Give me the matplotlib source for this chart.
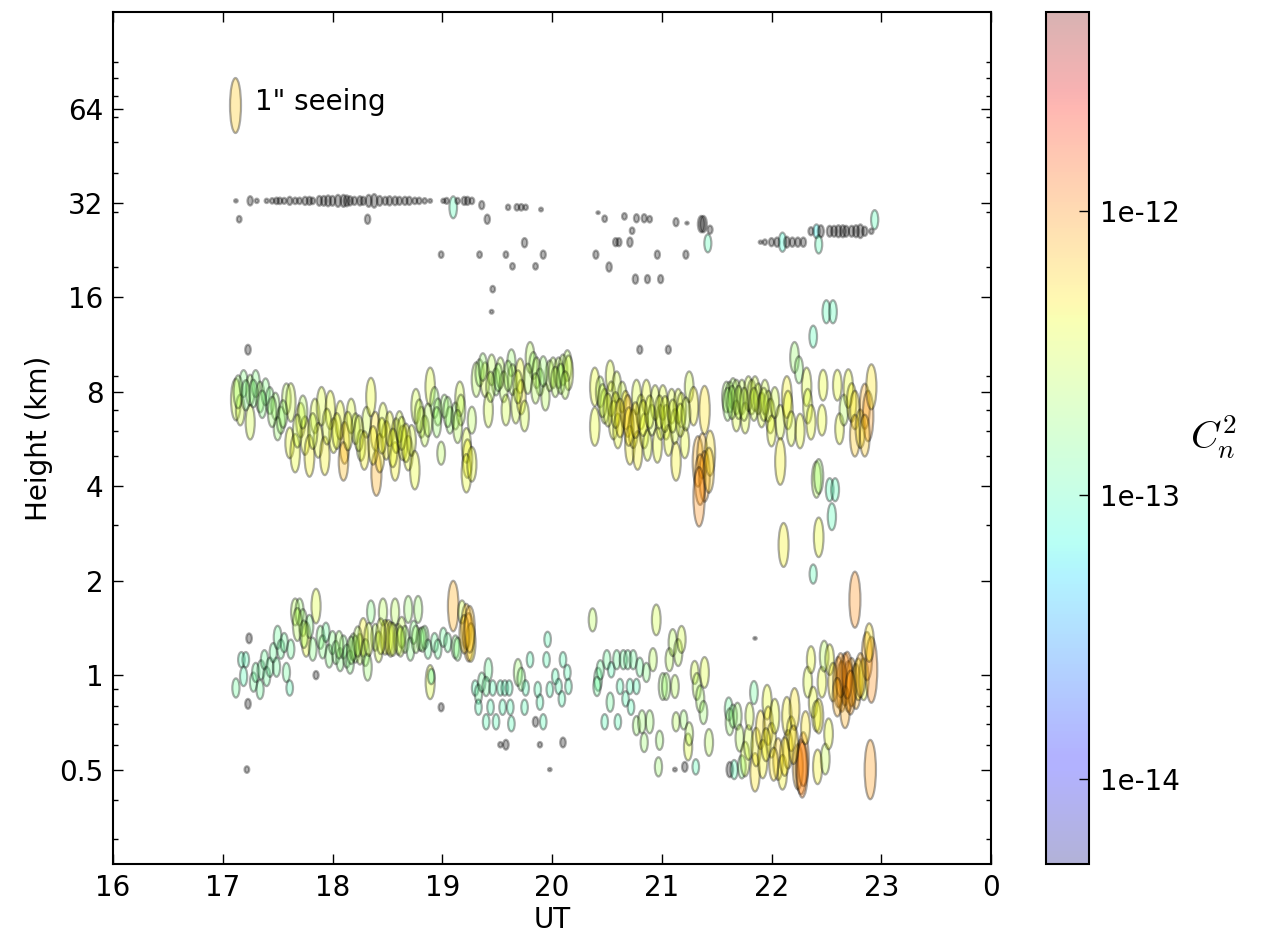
import matplotlib
matplotlib.use("Agg")
import numpy as np
import matplotlib.pyplot as plt
from matplotlib.collections import EllipseCollection
from matplotlib.colors import LogNorm, ListedColormap
from matplotlib.ticker import FixedLocator, NullFormatter

plt.rcParams['mathtext.fontset'] = 'cm'

# ---------------- data ----------------
# t = UT hour, h = height (km), s = seeing contribution (arcsec), c = log10(Cn2)
# (c below -14.3 = below the colour range, drawn grey)
top_t = [17.12, 17.25, 17.31, 17.40, 17.45, 17.49, 17.52, 17.56, 17.61, 17.66, 17.70, 17.75, 17.79, 17.82,
         17.88, 17.92, 17.96, 18.00, 18.05, 18.10, 18.13, 18.16, 18.20, 18.25, 18.28, 18.33, 18.38, 18.43,
         18.48, 18.52, 18.57, 18.61, 18.66, 18.70, 18.75, 18.79, 18.84, 18.89, 19.01, 19.04, 19.10, 19.14,
         19.20, 19.23, 19.27, 19.36, 17.15, 18.32, 19.41, 19.60, 19.68, 19.72, 19.76, 19.90, 18.99, 19.34,
         19.58, 19.75, 19.92, 19.64, 19.85, 19.46, 19.45,
         20.42, 20.48, 20.66, 20.77, 20.84, 20.89, 21.13, 21.23, 21.36, 21.38, 21.44, 21.42, 20.73, 20.58,
         20.61, 20.71, 20.40, 20.52, 20.96, 21.22, 20.76, 20.87, 20.99,
         21.90, 21.94, 22.00, 22.05, 22.10, 22.14, 22.19, 22.24, 22.29,
         22.36, 22.41, 22.45, 22.53, 22.57, 22.61, 22.65, 22.68, 22.73, 22.77, 22.81, 22.85, 22.91,
         22.43, 22.94, 22.50, 22.56, 22.38]
top_h = [32.5] * 40 + [31.0, 32.5, 32.5, 32.5, 32.5, 31.5, 28.4, 28.4, 28.4, 31.0, 31.0, 31.0, 31.0, 30.5,
         21.9, 21.9, 21.9, 23.9, 21.9, 20.1, 20.1, 17.0, 14.4,
         29.8, 28.5, 29.0, 28.6, 28.6, 28.4, 27.8, 27.6, 27.4, 27.4, 26.3, 23.8, 26.1, 24.0,
         24.0, 24.0, 21.9, 20.0, 21.9, 21.9, 18.3, 18.3, 18.3] + [24.0] * 9 + [26.0] * 13 + \
        [23.6, 28.3, 14.4, 14.4, 12.0]
top_s = [0.06, 0.17, 0.08, 0.08, 0.10, 0.12, 0.12, 0.11, 0.15, 0.12, 0.12, 0.15, 0.15, 0.12,
         0.18, 0.18, 0.20, 0.18, 0.22, 0.22, 0.20, 0.17, 0.15, 0.17, 0.15, 0.22, 0.25, 0.18,
         0.15, 0.17, 0.16, 0.15, 0.15, 0.15, 0.12, 0.12, 0.10, 0.07, 0.08, 0.11, 0.40, 0.11,
         0.15, 0.15, 0.12, 0.15, 0.12, 0.17, 0.17, 0.10, 0.12, 0.12, 0.10, 0.07, 0.12, 0.12,
         0.12, 0.17, 0.15, 0.12, 0.12, 0.12, 0.07,
         0.05, 0.12, 0.12, 0.15, 0.15, 0.12, 0.15, 0.05, 0.30, 0.30, 0.15, 0.33, 0.12, 0.15,
         0.15, 0.17, 0.15, 0.17, 0.15, 0.15, 0.17, 0.15, 0.15,
         0.06, 0.10, 0.15, 0.17, 0.35, 0.20, 0.17, 0.17, 0.17,
         0.15, 0.25, 0.22, 0.20, 0.20, 0.22, 0.22, 0.20, 0.20, 0.22, 0.25, 0.17, 0.10,
         0.33, 0.35, 0.42, 0.42, 0.40]
top_c = [-14.5] * 40 + [-13.0, -14.5, -14.5, -14.5, -14.5, -14.5, -14.5, -14.5, -14.5, -14.5, -14.5, -14.5,
         -14.5, -14.5, -14.5, -14.5, -14.5, -14.5, -14.5, -14.5, -14.5, -14.5, -14.5,
         -14.5, -14.5, -14.5, -14.5, -14.5, -14.5, -14.5, -14.5, -14.5, -14.5, -14.5, -13.0, -14.5, -14.5,
         -14.5, -14.5, -14.5, -14.5, -14.5, -14.5, -14.5, -14.5, -14.5,
         -14.5, -14.5, -14.5, -14.5, -13.1, -14.5, -14.5, -14.5, -14.5,
         -14.5, -13.2, -14.5, -14.5, -14.5, -14.5, -14.5, -14.5, -14.5, -14.5, -14.5, -14.5, -14.5,
         -13.0, -13.0, -13.0, -13.0, -13.0]

mid_t = [17.23, 17.12, 17.16, 17.19, 17.25, 17.25, 17.30, 17.34, 17.39, 17.43, 17.48, 17.50, 17.53, 17.58,
         17.62, 17.61, 17.66, 17.71, 17.75, 17.79, 17.84, 17.87, 17.90, 17.93, 17.98, 18.01, 18.07, 18.11,
         18.10, 18.17, 18.21, 18.26, 18.31, 18.35, 18.39, 18.40, 18.43, 18.46, 18.49, 18.52, 18.57, 18.58,
         18.61, 18.64, 18.69, 18.72, 18.75, 18.76, 18.81, 18.84, 18.89, 18.93, 18.96, 18.99, 19.02, 19.07,
         19.12, 19.16, 19.17, 19.22, 19.23, 19.22, 19.27, 19.27,
         19.31, 19.34, 19.39, 19.42, 19.45, 19.49, 19.53, 19.56, 19.58, 19.63, 19.64, 19.67, 19.71, 19.72,
         19.75, 19.80, 19.83, 19.86, 19.89, 19.94, 19.98, 20.01, 20.06, 20.10, 20.14, 20.15, 20.80, 21.06,
         20.39, 20.39, 20.44, 20.48, 20.53, 20.54, 20.56, 20.59, 20.60, 20.64, 20.67, 20.69, 20.71, 20.74,
         20.77, 20.78, 20.81, 20.84, 20.86, 20.87, 20.91, 20.94, 20.96, 20.99, 21.01, 21.04, 21.06, 21.09,
         21.12, 21.13, 21.15, 21.18, 21.21, 21.25, 21.29, 21.39, 21.33, 21.37, 21.39, 21.35, 21.34, 21.44,
         21.43,
         21.59, 21.62, 21.65, 21.68, 21.68, 21.73, 21.76, 21.79, 21.82, 21.85, 21.88, 21.91, 21.94, 21.97,
         21.99, 22.00, 22.03, 22.08, 22.08, 22.14, 22.15, 22.18, 22.21, 22.25, 22.26, 22.32, 22.33, 22.36,
         22.47, 22.46, 22.60, 22.62, 22.66, 22.70, 22.73, 22.76, 22.76, 22.81, 22.85, 22.88, 22.91, 22.85,
         22.41, 22.43, 22.53, 22.58, 22.55, 22.11, 22.43, 22.38]
mid_h = [10.9, 7.56, 7.0, 8.5, 8.1, 6.4, 8.5, 7.7, 8.0, 7.5, 7.2, 6.1, 6.5, 7.6,
         7.4, 5.5, 5.1, 6.5, 5.8, 5.0, 6.7, 5.6, 7.2, 5.0, 7.0, 5.8, 6.5, 5.5,
         4.8, 6.7, 6.1, 5.4, 6.4, 7.7, 6.0, 4.4, 5.1, 6.5, 5.6, 6.1, 4.8, 5.8,
         6.2, 5.5, 5.1, 5.6, 4.5, 7.2, 6.4, 6.0, 8.3, 7.4, 6.9, 5.1, 7.2, 6.5,
         6.7, 7.6, 7.0, 5.4, 4.9, 4.4, 4.7, 6.5,
         8.75, 9.2, 8.75, 7.0, 9.4, 8.6, 9.2, 8.3, 7.0, 9.9, 8.75, 7.2, 9.0, 7.7,
         6.7, 10.3, 9.7, 9.2, 8.6, 7.7, 9.0, 9.2, 9.2, 9.4, 9.7, 9.2, 10.9, 10.9,
         8.3, 6.2, 8.0, 7.2, 9.0, 7.6, 6.5, 8.3, 6.0, 7.7, 7.0, 6.7, 5.4, 6.1,
         7.7, 5.2, 6.9, 6.0, 7.7, 5.4, 6.5, 7.4, 5.4, 6.4, 7.4, 6.4, 5.6, 7.2,
         6.2, 4.8, 7.2, 7.0, 5.5, 8.3, 7.2, 7.0, 4.8, 5.0, 4.3, 4.2, 3.7, 5.1,
         4.5,
         7.7, 7.7, 7.9, 7.7, 6.7, 7.7, 6.6, 7.9, 7.7, 7.9, 7.6, 7.0, 7.7, 7.2,
         6.7, 6.0, 7.4, 6.4, 4.8, 7.7, 7.0, 6.1, 10.3, 9.4, 6.0, 8.3, 7.2, 6.4,
         8.4, 6.5, 8.4, 6.1, 7.0, 8.2, 7.4, 7.0, 5.8, 6.1, 7.2, 6.7, 8.3, 5.8,
         4.2, 4.3, 3.9, 3.9, 3.2, 2.6, 2.75, 2.1]
mid_s = [0.18, 0.76, 0.56, 0.49, 0.56, 0.63, 0.49, 0.56, 0.49, 0.49, 0.49, 0.42, 0.49, 0.56,
         0.70, 0.56, 0.70, 0.63, 0.70, 0.76, 0.63, 0.63, 0.70, 0.70, 0.70, 0.63, 0.70, 0.76,
         0.70, 0.63, 0.56, 0.56, 0.56, 0.70, 0.70, 0.82, 0.70, 0.63, 0.70, 0.63, 0.70, 0.63,
         0.56, 0.63, 0.63, 0.56, 0.70, 0.63, 0.56, 0.56, 0.70, 0.56, 0.49, 0.42, 0.42, 0.49,
         0.49, 0.63, 0.56, 0.63, 0.70, 0.70, 0.63, 0.49,
         0.63, 0.49, 0.63, 0.63, 0.56, 0.49, 0.56, 0.56, 0.56, 0.49, 0.56, 0.63, 0.63, 0.63,
         0.56, 0.56, 0.49, 0.56, 0.49, 0.49, 0.56, 0.56, 0.56, 0.56, 0.56, 0.63, 0.15, 0.15,
         0.70, 0.70, 0.56, 0.63, 0.56, 0.63, 0.70, 0.56, 0.63, 0.56, 0.70, 0.76, 0.70, 0.70,
         0.63, 0.70, 0.63, 0.63, 0.63, 0.56, 0.56, 0.63, 0.63, 0.63, 0.63, 0.63, 0.56, 0.63,
         0.63, 0.70, 0.63, 0.63, 0.56, 0.56, 0.70, 0.88, 0.92, 0.82, 0.92, 0.92, 1.08, 0.82,
         0.82,
         0.56, 0.56, 0.56, 0.63, 0.56, 0.63, 0.56, 0.63, 0.63, 0.63, 0.56, 0.63, 0.63, 0.56,
         0.63, 0.56, 0.56, 0.63, 0.85, 0.76, 0.70, 0.63, 0.56, 0.49, 0.63, 0.70, 0.63, 0.63,
         0.56, 0.56, 0.56, 0.56, 0.56, 0.70, 0.70, 0.70, 0.76, 0.70, 0.82, 0.92, 0.82, 0.76,
         0.66, 0.63, 0.42, 0.42, 0.49, 0.80, 0.72, 0.35]
mid_c = [-14.5, -12.5, -12.5, -12.8, -12.7, -12.5, -12.8, -12.7, -12.8, -12.8, -12.7, -12.7, -12.7, -12.6,
         -12.5, -12.4, -12.4, -12.4, -12.4, -12.35, -12.45, -12.4, -12.45, -12.35, -12.4, -12.4, -12.4, -12.2,
         -12.15, -12.45, -12.5, -12.5, -12.5, -12.4, -12.3, -12.1, -12.3, -12.45, -12.35, -12.4, -12.35, -12.4,
         -12.5, -12.4, -12.4, -12.45, -12.4, -12.5, -12.55, -12.55, -12.45, -12.7, -12.7, -12.6, -12.7, -12.7,
         -12.7, -12.5, -12.6, -12.45, -12.35, -12.4, -12.4, -12.6,
         -12.6, -12.7, -12.5, -12.5, -12.6, -12.7, -12.6, -12.6, -12.5, -12.7, -12.6, -12.5, -12.4, -12.35,
         -12.5, -12.6, -12.7, -12.6, -12.7, -12.6, -12.6, -12.6, -12.6, -12.6, -12.6, -12.5, -14.5, -14.5,
         -12.4, -12.4, -12.6, -12.5, -12.45, -12.45, -12.4, -12.5, -12.4, -12.5, -12.3, -12.2, -12.35, -12.35,
         -12.45, -12.35, -12.45, -12.4, -12.4, -12.45, -12.5, -12.45, -12.4, -12.45, -12.45, -12.45, -12.4, -12.45,
         -12.45, -12.35, -12.45, -12.45, -12.4, -12.5, -12.35, -12.3, -12.1, -12.15, -12.05, -12.05, -12.0, -12.3,
         -12.2,
         -12.65, -12.65, -12.65, -12.6, -12.45, -12.55, -12.45, -12.5, -12.5, -12.5, -12.5, -12.45, -12.5, -12.5,
         -12.45, -12.4, -12.5, -12.45, -12.35, -12.35, -12.4, -12.45, -12.7, -12.75, -12.4, -12.45, -12.45, -12.4,
         -12.4, -12.4, -12.4, -12.4, -12.6, -12.4, -12.35, -12.3, -12.2, -12.3, -12.1, -12.05, -12.3, -12.2,
         -12.6, -12.7, -13.0, -13.0, -13.0, -12.35, -12.4, -13.0]

# overlapping ellipses inside the densest parts of the bands
dense_t = [17.14, 17.21, 17.28, 17.36, 17.45, 17.55, 17.68, 17.73, 17.82, 17.95, 18.04, 18.14, 18.24, 18.29,
           18.37, 18.45, 18.55, 18.63, 18.67, 18.79, 18.87, 18.95, 19.05, 19.14,
           19.37, 19.44, 19.51, 19.60, 19.69, 19.78, 19.85, 19.92, 20.03, 20.08, 20.12,
           20.46, 20.51, 20.58, 20.62, 20.70, 20.76, 20.83, 20.89, 20.98, 21.03, 21.10, 21.17, 21.22,
           21.60, 21.64, 21.70, 21.75, 21.84, 21.93,
           17.68, 17.74, 18.06, 18.17, 18.23, 18.33, 18.44, 18.55, 18.62, 18.76, 18.82, 19.20, 19.25,
           22.63, 22.69, 22.72, 22.81, 22.60, 22.20, 22.12, 21.95, 22.02, 22.31]
dense_h = [8.0, 7.8, 7.9, 7.3, 6.9, 6.8, 6.0, 6.9, 6.0, 6.2, 6.0, 6.0, 5.9, 5.2,
           5.4, 5.8, 5.3, 5.9, 5.5, 6.7, 6.5, 6.4, 6.9, 6.2,
           9.6, 8.3, 8.9, 9.0, 8.3, 8.8, 8.2, 9.3, 8.6, 8.8, 8.4,
           7.5, 7.0, 7.0, 6.6, 6.2, 6.5, 6.6, 6.9, 6.9, 6.8, 6.7, 6.5, 6.8,
           7.3, 7.4, 7.4, 7.3, 7.3, 7.3,
           1.45, 1.35, 1.25, 1.20, 1.28, 1.30, 1.33, 1.30, 1.28, 1.30, 1.30, 1.35, 1.40,
           1.00, 1.00, 0.88, 1.00, 0.85, 0.60, 0.55, 0.60, 0.52, 0.68]
dense_s = [0.60, 0.55, 0.50, 0.50, 0.55, 0.50, 0.60, 0.60, 0.65, 0.65, 0.65, 0.70, 0.65, 0.70,
           0.70, 0.65, 0.70, 0.60, 0.70, 0.60, 0.60, 0.55, 0.55, 0.60,
           0.50, 0.55, 0.50, 0.55, 0.60, 0.55, 0.55, 0.55, 0.55, 0.55, 0.50,
           0.60, 0.60, 0.65, 0.70, 0.70, 0.65, 0.65, 0.60, 0.60, 0.65, 0.60, 0.60, 0.60,
           0.60, 0.60, 0.60, 0.60, 0.60, 0.60,
           0.60, 0.50, 0.50, 0.50, 0.55, 0.60, 0.65, 0.60, 0.55, 0.50, 0.45, 0.70, 0.85,
           0.80, 0.85, 0.80, 0.80, 0.70, 0.70, 0.70, 0.60, 0.60, 0.60]
dense_c = [-12.7, -12.8, -12.8, -12.8, -12.7, -12.7, -12.5, -12.6, -12.5, -12.45, -12.4, -12.4, -12.45, -12.35,
           -12.35, -12.4, -12.4, -12.45, -12.4, -12.55, -12.6, -12.7, -12.7, -12.6,
           -12.7, -12.6, -12.7, -12.65, -12.5, -12.6, -12.6, -12.7, -12.6, -12.65, -12.6,
           -12.5, -12.45, -12.4, -12.3, -12.3, -12.3, -12.4, -12.45, -12.45, -12.45, -12.45, -12.45, -12.5,
           -12.7, -12.65, -12.6, -12.55, -12.5, -12.5,
           -12.6, -12.65, -12.7, -12.7, -12.6, -12.5, -12.45, -12.5, -12.55, -12.7, -12.75, -12.2, -12.15,
           -12.05, -12.0, -12.05, -12.1, -12.1, -12.25, -12.3, -12.35, -12.3, -12.3]

low_t = [17.12, 17.17, 17.21, 17.19, 17.24, 17.23, 17.28, 17.30, 17.34, 17.35, 17.38, 17.40, 17.43, 17.46,
         17.49, 17.50, 17.53, 17.56, 17.58, 17.61, 17.62, 17.66, 17.70, 17.73, 17.76, 17.79, 17.82, 17.85,
         17.85, 17.89, 17.91, 17.94, 17.97, 18.00, 18.03, 18.07, 18.10, 18.13, 18.16, 18.19, 18.21, 18.25,
         18.28, 18.30, 18.32, 18.35, 18.39, 18.42, 18.46, 18.48, 18.51, 18.53, 18.57, 18.60, 18.63, 18.66,
         18.69, 18.71, 18.74, 18.78, 18.80, 18.84, 18.87, 18.89, 18.90, 18.93, 18.96, 18.99, 19.01, 19.05,
         19.10, 19.12, 19.14, 19.18, 19.22, 19.24, 19.26,
         19.30, 19.33, 19.33, 19.36, 19.42, 19.40, 19.44, 19.46, 19.40, 19.49, 19.53, 19.55, 19.57, 19.61,
         19.62, 19.63, 19.69, 19.72, 19.75, 19.76, 19.80, 19.85, 19.87, 19.92, 19.95, 19.96, 19.89, 19.98,
         19.53, 19.58, 19.89, 19.98, 17.22, 20.03, 20.06, 20.10, 20.14, 20.15, 20.09, 20.10,
         20.37, 20.42, 20.44, 20.41, 20.48, 20.50, 20.53, 20.54, 20.59, 20.60, 20.62, 20.65, 20.67, 20.69,
         20.71, 20.72, 20.74, 20.77, 20.77, 20.80, 20.82, 20.84, 20.86, 20.89, 20.92, 20.95, 20.97, 20.98,
         21.01, 21.04, 21.07, 21.10, 21.12, 21.13, 21.15, 21.18, 21.20, 21.21, 21.12, 21.24, 21.25, 21.30,
         21.32, 21.35, 21.38, 21.39, 21.43, 21.31,
         21.61, 21.62, 21.62, 21.65, 21.66, 21.69, 21.71, 21.73, 21.76, 21.79, 21.80, 21.84, 21.85, 21.86,
         21.90, 21.92, 21.96, 21.97, 22.00, 22.03, 22.06, 22.10, 22.14, 22.15, 22.18, 22.21, 22.24, 22.27,
         22.29, 22.28, 22.33, 22.36, 22.38, 22.41, 22.42, 22.43, 22.46, 22.48, 22.49, 22.52, 22.53, 22.56,
         22.61, 22.64, 22.67, 22.70, 22.73, 22.76, 22.77, 22.79, 22.84, 22.87, 22.91, 22.89, 22.90, 22.67,
         21.85]
low_h = [0.91, 1.12, 1.12, 0.99, 1.31, 0.81, 0.95, 1.02, 0.90, 1.04, 1.12, 0.99, 1.06, 1.18,
         1.06, 1.32, 1.21, 1.27, 1.02, 0.91, 1.21, 1.59, 1.59, 1.47, 1.30, 1.43, 1.21, 1.66,
         1.00, 1.32, 1.23, 1.37, 1.15, 1.27, 1.18, 1.12, 1.23, 1.15, 1.10, 1.23, 1.21, 1.21,
         1.32, 1.18, 1.06, 1.59, 1.32, 1.23, 1.59, 1.32, 1.32, 1.30, 1.59, 1.30, 1.37, 1.30,
         1.62, 1.21, 1.37, 1.62, 1.30, 1.32, 1.21, 0.95, 0.99, 1.27, 1.21, 0.79, 1.32, 1.27,
         1.66, 1.23, 1.21, 1.59, 1.43, 1.32, 1.27,
         0.91, 0.87, 0.79, 0.95, 1.04, 0.92, 0.79, 0.91, 0.71, 0.71, 0.91, 0.79, 0.91, 0.91,
         0.79, 0.70, 1.02, 0.97, 0.79, 0.91, 1.12, 0.71, 0.90, 0.71, 1.12, 1.30, 0.82, 0.90,
         0.60, 0.60, 0.60, 0.50, 0.50, 0.99, 0.92, 1.12, 1.02, 0.92, 0.84, 0.61,
         1.50, 0.97, 1.04, 0.92, 0.71, 1.12, 0.82, 1.04, 1.12, 0.71, 0.92, 1.12, 0.84, 1.12,
         0.92, 0.79, 1.12, 0.92, 0.69, 1.06, 0.71, 0.61, 1.02, 0.71, 1.12, 1.50, 0.51, 0.62,
         0.92, 0.92, 1.12, 1.27, 0.92, 0.71, 1.18, 1.30, 0.72, 0.51, 0.50, 0.59, 0.65, 1.02,
         0.92, 0.84, 0.76, 1.02, 0.61, 0.51,
         0.78, 0.71, 0.50, 0.74, 0.50, 0.74, 0.63, 0.51, 0.54, 0.61, 0.74, 0.88, 0.49, 0.59,
         0.67, 0.54, 0.82, 0.69, 0.62, 0.74, 0.54, 0.49, 0.74, 0.58, 0.65, 0.78, 0.51, 0.51,
         0.54, 0.50, 0.95, 1.12, 0.82, 0.74, 0.51, 0.74, 0.95, 1.15, 0.54, 0.65, 1.12, 0.95,
         0.95, 0.92, 0.97, 0.92, 0.95, 1.74, 0.92, 0.97, 0.97, 1.15, 1.04, 1.27, 0.50, 0.79,
         1.31]
low_s = [0.35, 0.28, 0.28, 0.35, 0.18, 0.18, 0.35, 0.35, 0.35, 0.35, 0.35, 0.35, 0.35, 0.35,
         0.35, 0.42, 0.35, 0.35, 0.35, 0.28, 0.35, 0.49, 0.49, 0.49, 0.63, 0.42, 0.42, 0.63,
         0.15, 0.42, 0.42, 0.35, 0.42, 0.42, 0.42, 0.42, 0.42, 0.42, 0.42, 0.49, 0.49, 0.56,
         0.70, 0.49, 0.49, 0.42, 0.49, 0.56, 0.49, 0.63, 0.63, 0.63, 0.49, 0.56, 0.56, 0.49,
         0.49, 0.42, 0.42, 0.49, 0.42, 0.42, 0.35, 0.62, 0.28, 0.35, 0.35, 0.15, 0.35, 0.35,
         0.92, 0.42, 0.42, 0.42, 0.82, 0.88, 0.70,
         0.28, 0.35, 0.28, 0.35, 0.42, 0.35, 0.28, 0.28, 0.28, 0.28, 0.28, 0.28, 0.28, 0.28,
         0.28, 0.28, 0.49, 0.42, 0.28, 0.28, 0.28, 0.18, 0.28, 0.28, 0.28, 0.28, 0.28, 0.28,
         0.10, 0.18, 0.10, 0.06, 0.12, 0.28, 0.28, 0.28, 0.28, 0.28, 0.28, 0.18,
         0.42, 0.42, 0.35, 0.35, 0.28, 0.35, 0.35, 0.28, 0.35, 0.28, 0.28, 0.35, 0.28, 0.35,
         0.28, 0.28, 0.35, 0.28, 0.35, 0.35, 0.42, 0.35, 0.35, 0.42, 0.42, 0.56, 0.35, 0.35,
         0.49, 0.49, 0.42, 0.49, 0.42, 0.35, 0.49, 0.49, 0.35, 0.18, 0.07, 0.49, 0.42, 0.42,
         0.49, 0.49, 0.42, 0.56, 0.49, 0.28,
         0.42, 0.49, 0.28, 0.42, 0.35, 0.49, 0.49, 0.42, 0.63, 0.63, 0.49, 0.42, 0.70, 0.70,
         0.70, 0.70, 0.63, 0.70, 0.63, 0.63, 0.76, 0.63, 0.70, 0.70, 0.63, 0.76, 0.82, 1.00,
         0.98, 1.02, 0.56, 0.49, 0.56, 0.56, 0.63, 0.63, 0.56, 0.56, 0.56, 0.56, 0.56, 0.70,
         0.92, 0.92, 0.95, 0.92, 0.88, 1.02, 0.82, 0.76, 0.76, 0.88, 1.20, 0.70, 1.08, 0.76,
         0.05]
low_c = [-12.9, -13.0, -13.0, -13.0, -14.5, -14.5, -12.9, -12.9, -12.9, -12.9, -12.9, -12.9, -12.9, -12.9,
         -12.9, -12.9, -12.9, -12.9, -12.9, -13.0, -12.9, -12.6, -12.7, -12.7, -12.4, -12.8, -12.8, -12.45,
         -14.5, -12.8, -12.8, -12.9, -12.8, -12.8, -12.8, -12.8, -12.8, -12.8, -12.8, -12.7, -12.7, -12.6,
         -12.35, -12.7, -12.7, -12.8, -12.6, -12.5, -12.6, -12.4, -12.4, -12.45, -12.6, -12.55, -12.55, -12.7,
         -12.7, -12.8, -12.8, -12.7, -12.8, -12.8, -12.9, -12.45, -13.0, -12.9, -12.9, -14.5, -12.9, -12.9,
         -12.1, -12.8, -12.8, -12.5, -12.15, -12.1, -12.3,
         -13.0, -12.9, -13.0, -12.9, -12.9, -12.9, -13.0, -13.0, -13.0, -13.0, -13.0, -13.0, -13.0, -13.0,
         -13.0, -13.0, -12.7, -12.8, -13.0, -13.0, -13.0, -14.5, -13.0, -13.0, -13.0, -13.0, -13.0, -13.0,
         -14.5, -14.5, -14.5, -14.5, -14.5, -13.0, -13.0, -13.0, -13.0, -13.0, -13.0, -14.5,
         -12.6, -12.9, -12.9, -12.9, -13.0, -12.9, -12.9, -13.0, -12.9, -13.0, -13.0, -12.9, -13.0, -12.9,
         -13.0, -13.0, -12.9, -13.0, -12.7, -12.9, -12.7, -12.7, -12.8, -12.7, -12.6, -12.5, -12.7, -12.7,
         -12.7, -12.7, -12.6, -12.6, -12.6, -12.6, -12.6, -12.5, -12.7, -14.5, -14.5, -12.45, -12.6, -12.5,
         -12.6, -12.65, -12.7, -12.45, -12.6, -13.0,
         -12.9, -12.7, -14.5, -12.8, -13.0, -12.7, -12.6, -12.8, -12.5, -12.5, -12.5, -12.9, -12.3, -12.35,
         -12.3, -12.35, -12.4, -12.3, -12.35, -12.4, -12.25, -12.35, -12.35, -12.3, -12.35, -12.3, -12.1, -12.0,
         -12.0, -11.95, -12.45, -12.4, -12.4, -12.4, -12.35, -12.35, -12.4, -12.6, -12.55, -12.4, -12.4, -12.3,
         -12.05, -12.05, -12.0, -12.05, -12.1, -12.0, -12.1, -12.3, -12.4, -12.1, -12.0, -12.3, -12.05, -12.1,
         -14.5]

x_ticks = [16, 17, 18, 19, 20, 21, 22, 23, 24]
x_ticklabels = ['16', '17', '18', '19', '20', '21', '22', '23', '0']
y_ticks = [0.5, 1, 2, 4, 8, 16, 32, 64]
y_ticklabels = ['0.5', '1', '2', '4', '8', '16', '32', '64']
y_minor = [0.3, 0.4, 0.6, 0.7, 0.8, 0.9, 3, 5, 6, 7, 9, 20, 30, 40, 50, 60, 70, 80, 90]
cb_ticks = [1e-14, 1e-13, 1e-12]
cb_ticklabels = ['1e-14', '1e-13', '1e-12']
legend_seeing = 1.0
legend_c = -12.2

# ---------------- figure ----------------
W, H = 1265, 934
fig = plt.figure(figsize=(W / 100, H / 100), dpi=100)
ax = fig.add_axes([113 / W, 70 / H, 878 / W, 852 / H])
cax = fig.add_axes([1046 / W, 70 / H, 43 / W, 852 / H])

t = np.array(top_t + low_t + mid_t + dense_t)
h = np.array(top_h + low_h + mid_h + dense_h)
s = np.array(top_s + low_s + mid_s + dense_s)
c = 10.0 ** np.array(top_c + low_c + mid_c + dense_c)

FACE_ALPHA = 0.3
jet_rgba = plt.get_cmap('jet')(np.linspace(0, 1, 256))
jet_rgba[:, 3] = FACE_ALPHA
cmap = ListedColormap(jet_rgba).with_extremes(under=(0, 0, 0, FACE_ALPHA))
norm = LogNorm(vmin=5e-15, vmax=5e-12)
EDGE = (0, 0, 0, 0.33)

HEIGHT_PER_ARCSEC = 55.0   # pixel height of a 1" ellipse
def ell_sizes(sv):
    sv = np.asarray(sv, dtype=float)
    return 11.0 * sv ** 0.4, HEIGHT_PER_ARCSEC * sv

wd, ht = ell_sizes(s)
ec = EllipseCollection(wd, ht, np.zeros_like(wd), units='dots',
                       offsets=np.column_stack([t, h]), offset_transform=ax.transData,
                       cmap=cmap, norm=norm, edgecolors=EDGE, linewidths=1.6)
ec.set_array(c)
ax.add_collection(ec)

# legend ellipse
lw_, lh_ = ell_sizes([legend_seeing])
leg = EllipseCollection(lw_, lh_, [0.0], units='dots', offsets=[[0.139, 0.891]],
                        offset_transform=ax.transAxes, cmap=cmap, norm=norm,
                        edgecolors=EDGE, linewidths=1.6)
leg.set_array(np.array([10.0 ** legend_c]))
ax.add_collection(leg)
ax.text(0.162, 0.894, '1" seeing', transform=ax.transAxes, fontsize=20,
        ha='left', va='center')

ax.set_yscale('log', base=2)
ax.set_xlim(16, 24)
ax.set_ylim(0.25, 130)
ax.set_xticks(x_ticks)
ax.set_xticklabels(x_ticklabels)
ax.yaxis.set_major_locator(FixedLocator(y_ticks))
ax.set_yticklabels(y_ticklabels)
ax.yaxis.set_minor_locator(FixedLocator(y_minor))
ax.yaxis.set_minor_formatter(NullFormatter())
ax.xaxis.set_minor_locator(FixedLocator([]))
ax.tick_params(which='both', direction='in', top=True, right=True, labelsize=20)
ax.tick_params(which='major', length=7, width=1.0, pad=7)
ax.tick_params(which='minor', length=3.5, width=1.0)
for sp in ax.spines.values():
    sp.set_linewidth(1.5)
ax.set_xlabel('UT', fontsize=20, labelpad=3)
ax.set_ylabel('Height (km)', fontsize=20, labelpad=4)

cb = fig.colorbar(ec, cax=cax)
cb.set_ticks(cb_ticks)
cb.set_ticklabels(cb_ticklabels)
cax.minorticks_off()
cax.tick_params(direction='in', length=7, width=1.0, labelsize=20, pad=8)
cb.outline.set_linewidth(1.5)
fig.text(1213 / W, 1 - 437 / H, r'$C_n^2$', fontsize=28, ha='center', va='center')

fig.savefig('out.png', dpi=100)
